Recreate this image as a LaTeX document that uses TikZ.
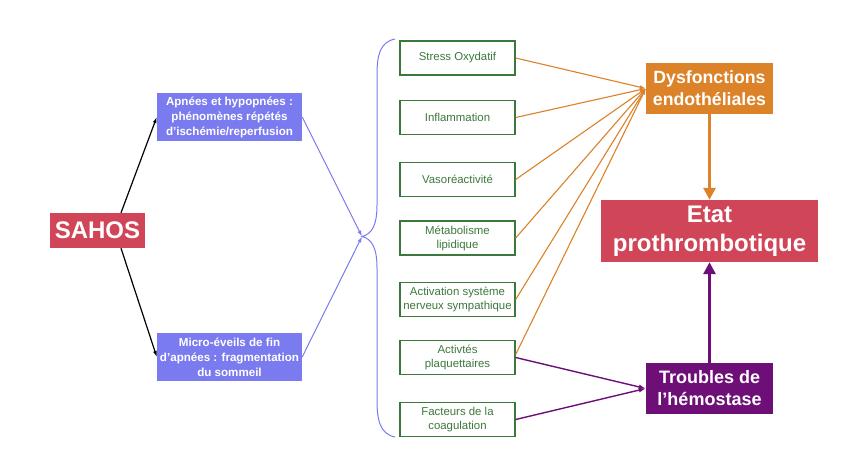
\documentclass[tikz,border=0pt]{standalone}
\usepackage{fontspec}
\setmainfont{Liberation Sans}
\usetikzlibrary{arrows.meta}
\definecolor{cred}{HTML}{D04558}
\definecolor{cblue}{HTML}{7B7BF0}
\definecolor{corange}{HTML}{DC8228}
\definecolor{cpurple}{HTML}{6E0F78}
\definecolor{cgreen}{HTML}{3C783C}
\begin{document}
\begin{tikzpicture}[x=1pt,y=-1pt,
  greenbox/.style={draw=cgreen,line width=1.3pt,text=cgreen,minimum width=115pt,minimum height=34pt,align=center,inner sep=0pt,font=\fontsize{11.4}{14}\selectfont},
  bluebox/.style={fill=cblue,text=white,minimum width=145pt,minimum height=48pt,align=center,inner sep=0pt,font=\bfseries\fontsize{11.6}{15}\selectfont},
  redbox/.style={fill=cred,text=white,align=center,inner sep=0pt},
  orangebox/.style={fill=corange,text=white,minimum width=127pt,minimum height=51pt,align=center,inner sep=0pt,font=\bfseries\fontsize{17.7}{22}\selectfont},
  purplebox/.style={fill=cpurple,text=white,minimum width=127pt,minimum height=51pt,align=center,inner sep=0pt,font=\bfseries\fontsize{18}{22}\selectfont},
  blackarrow/.style={draw=black,line width=1.2pt,-{Latex[length=6pt,width=4pt]}},
  bluearrow/.style={draw=cblue,line width=1pt,-{Latex[length=6pt,width=4pt]}},
  orangearrow/.style={draw=corange,line width=1.1pt,-{Latex[length=6pt,width=4pt]}},
  purplearrow/.style={draw=cpurple,line width=1.4pt,-{Latex[length=7pt,width=5pt]}},
  thickorange/.style={draw=corange,line width=3.5pt,-{Triangle[length=12pt,width=12pt]}},
  thickpurple/.style={draw=cpurple,line width=3.5pt,-{Triangle[length=12pt,width=12pt]}},
]
\useasboundingbox[fill=white] (0,0) rectangle (850,467);

\node[redbox,minimum width=95pt,minimum height=35pt,font=\bfseries\fontsize{24}{28}\selectfont] (sahos) at (97.5,230.5) {SAHOS};
\node[bluebox] (apnees) at (229.5,117) {Apnées et hypopnées :\\phénomènes répétés\\d’ischémie/reperfusion};
\node[bluebox] (micro) at (229.5,357) {Micro-éveils de fin\\d’apnées : fragmentation\\du sommeil};

\coordinate (tip) at (362,236.5);

\node[greenbox] (stress) at (457.5,58) {Stress Oxydatif};
\node[greenbox] (inflam) at (457.5,117.5) {Inflammation};
\node[greenbox] (vaso) at (457.5,179.5) {Vasoréactivité};
\node[greenbox] (metab) at (457.5,238) {Métabolisme\\lipidique};
\node[greenbox] (activ) at (457.5,299.5) {Activation système\\nerveux sympathique};
\node[greenbox] (plaq) at (457.5,357.5) {Activtés\\plaquettaires};
\node[greenbox] (coag) at (457.5,419.5) {Facteurs de la\\coagulation};

\node[orangebox] (dysf) at (709.5,88.5) {Dysfonctions\\endothéliales};
\node[redbox,minimum width=217pt,minimum height=62pt,font=\bfseries\fontsize{24}{29}\selectfont] (etat) at (709.5,231) {Etat\\prothrombotique};
\node[purplebox] (troub) at (709.5,388.5) {Troubles de\\l’hémostase};

% brace
\draw[cblue,line width=1pt] (395,39) .. controls (380,42) and (377,55) .. (377,75)
  -- (377,205) .. controls (377,225) and (372,234) .. (tip)
  .. controls (372,239) and (377,248) .. (377,268)
  -- (377,400) .. controls (377,420) and (380,434) .. (395,437);

\draw[blackarrow] (sahos.north -| 121,0) -- (apnees.west);
\draw[blackarrow] (sahos.south -| 121,0) -- (micro.west);

\draw[bluearrow] (apnees.east) -- (tip);
\draw[bluearrow] (micro.east) -- (tip);

\foreach \n in {stress,inflam,vaso,metab,activ}{
  \draw[orangearrow] (\n.east) -- (dysf.west);
}
\draw[orangearrow] (plaq.east) ++(0,-3) -- (dysf.west);

\draw[purplearrow] (plaq.east) -- (troub.west);
\draw[purplearrow] (coag.east) -- (troub.west);

\draw[thickorange] (dysf.south) -- (etat.north);
\draw[thickpurple] (troub.north) -- (etat.south);
\end{tikzpicture}
\end{document}
